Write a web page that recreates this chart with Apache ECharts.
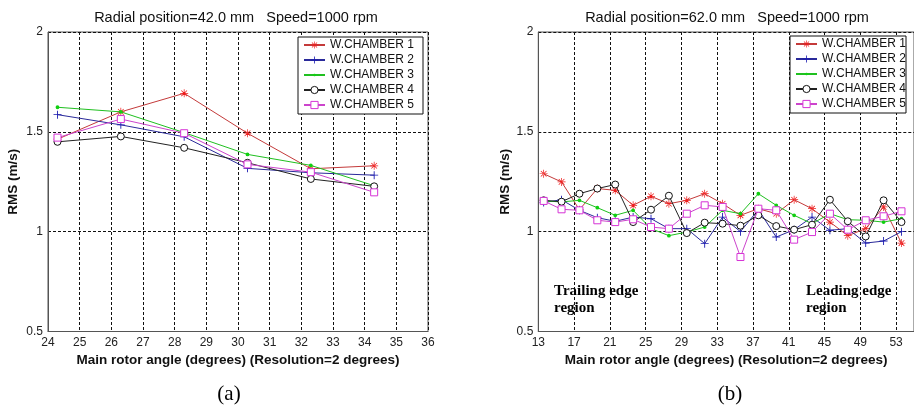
<!DOCTYPE html>
<html><head><meta charset="utf-8">
<script src="https://cdn.jsdelivr.net/npm/echarts@6/dist/echarts.min.js"></script>
<style>html,body{margin:0;padding:0;background:#fff}#c{width:914px;height:406px}</style>
</head><body><div id="c"></div>
<script>
const names = ['W.CHAMBER 1', 'W.CHAMBER 2', 'W.CHAMBER 3', 'W.CHAMBER 4', 'W.CHAMBER 5'];
const titleA = 'Radial position=42.0 mm   Speed=1000 rpm';
const titleB = 'Radial position=62.0 mm   Speed=1000 rpm';
const xName = 'Main rotor angle (degrees) (Resolution=2 degrees)';
const yName = 'RMS (m/s)';

// chart (a)
const anglesA = [24.3, 26.3, 28.3, 30.3, 32.3, 34.3];
const a1 = [1.463, 1.600, 1.693, 1.493, 1.315, 1.330];
const a2 = [1.586, 1.535, 1.475, 1.317, 1.295, 1.283];
const a3 = [1.623, 1.600, 1.496, 1.387, 1.332, 1.230];
const a4 = [1.450, 1.477, 1.420, 1.345, 1.264, 1.227];
const a5 = [1.471, 1.564, 1.493, 1.337, 1.298, 1.197];

// chart (b)
const anglesB = [13.6, 15.6, 17.6, 19.6, 21.6, 23.6, 25.6, 27.6, 29.6, 31.6, 33.6, 35.6, 37.6, 39.6, 41.6, 43.6, 45.6, 47.6, 49.6, 51.6, 53.6];
const b1 = [1.290, 1.249, 1.110, 1.216, 1.207, 1.132, 1.177, 1.140, 1.157, 1.190, 1.140, 1.082, 1.115, 1.090, 1.160, 1.115, 1.048, 0.980, 1.015, 1.124, 0.943];
const b2 = [1.146, 1.160, 1.107, 1.070, 1.052, 1.073, 1.065, 1.015, 1.015, 0.940, 1.073, 1.000, 1.110, 0.973, 1.010, 1.073, 1.007, 1.015, 0.943, 0.953, 1.000];
const b3 = [1.154, 1.149, 1.157, 1.120, 1.082, 1.107, 1.015, 0.980, 0.998, 1.023, 1.107, 1.090, 1.190, 1.132, 1.082, 1.040, 1.090, 1.060, 1.057, 1.048, 1.065];
const b4 = [1.157, 1.150, 1.190, 1.216, 1.236, 1.048, 1.110, 1.180, 0.993, 1.045, 1.040, 1.030, 1.082, 1.028, 1.010, 1.035, 1.160, 1.052, 0.976, 1.157, 1.048];
const b5 = [1.154, 1.112, 1.107, 1.057, 1.048, 1.062, 1.023, 1.015, 1.090, 1.132, 1.124, 0.873, 1.115, 1.107, 0.960, 0.998, 1.090, 1.010, 1.057, 1.077, 1.102];

const xTicksA = {min: 24, max: 36, interval: 1};
const xTicksB = {min: 13, max: 55, interval: 4};
const yTicks = {min: 0.5, max: 2, interval: 0.5};

const PLUS = 'path://M-0.55,-5L0.55,-5L0.55,-0.55L5,-0.55L5,0.55L0.55,0.55L0.55,5L-0.55,5L-0.55,0.55L-5,0.55L-5,-0.55L-0.55,-0.55Z';
const STAR = 'path://M-0.45,-5L0.45,-5L0.45,-0.45L5,-0.45L5,0.45L0.45,0.45L0.45,5L-0.45,5L-0.45,0.45L-5,0.45L-5,-0.45L-0.45,-0.45Z' +
  'M-3.22,-3.86L3.86,3.22L3.22,3.86L-3.86,-3.22Z M-3.22,3.86L3.86,-3.22L3.22,-3.86L-3.86,3.22Z';
// small dot inside an invisible 10x10 box, so the legend icon stays small
const DOT = 'path://M-5,-5L-5,-5Z M5,5L5,5Z M-1.9,0A1.9,1.9 0 1,1 1.9,0A1.9,1.9 0 1,1 -1.9,0Z';

const styles = [
  {color: '#ee1c1c', line: '#c43a3a', symbol: STAR, size: 8, fill: '#ee1c1c', bw: 0},
  {color: '#1a1ab0', line: '#2a2a9a', symbol: PLUS, size: 8, fill: '#1a1ab0', bw: 0},
  {color: '#10d010', line: '#20c020', symbol: DOT, size: 10, fill: '#10d010', bw: 0},
  {color: '#111111', line: '#222222', symbol: 'circle', size: 7, fill: '#ffffff', bw: 1},
  {color: '#d633d6', line: '#cc44cc', symbol: 'rect', size: 7, fill: '#ffffff', bw: 1}
];

function mk(xs, ys, i, gi) {
  const s = styles[i];
  return {
    name: names[i], type: 'line', xAxisIndex: gi, yAxisIndex: gi,
    data: xs.map((x, k) => [x, ys[k]]),
    symbol: s.symbol, symbolSize: s.size, showSymbol: true, symbolKeepAspect: true,
    lineStyle: {color: s.line, width: 1},
    itemStyle: {color: s.fill, borderColor: s.color, borderWidth: s.bw},
    animation: false, z: 3 + i
  };
}

const sans = 'Arial, Liberation Sans, sans-serif';
const axisFont = {fontFamily: sans, fontSize: 12, color: '#222'};
const split = {show: true, lineStyle: {color: '#111', width: 1, type: [3, 2]}};
const axLine = {show: true, lineStyle: {color: '#555', width: 1}};

function xAxis(ticks, gi) {
  return Object.assign({
    type: 'value', gridIndex: gi, name: xName, nameLocation: 'middle', nameGap: 19,
    nameTextStyle: {fontFamily: sans, fontSize: 13.5, fontWeight: 'bold', color: '#111'},
    axisLine: axLine, axisTick: {show: false}, splitLine: split,
    axisLabel: Object.assign({margin: 5, showMaxLabel: gi === 0,
      formatter: v => (gi === 1 && v > 53) ? '' : String(v)}, axisFont)
  }, ticks);
}
function yAxis(gi, gap) {
  return Object.assign({
    type: 'value', gridIndex: gi, name: yName, nameLocation: 'middle', nameGap: gap,
    nameTextStyle: {fontFamily: sans, fontSize: 13.5, fontWeight: 'bold', color: '#111'},
    axisLine: axLine, axisTick: {show: false}, splitLine: split,
    axisLabel: Object.assign({margin: 5}, axisFont)
  }, yTicks);
}

const legendData = names.map((n, i) => ({name: n, itemStyle: {borderWidth: styles[i].bw}}));
const legendBase = {
  orient: 'vertical', itemWidth: 21, itemHeight: 9, itemGap: 3,
  borderColor: '#111', borderWidth: 1, backgroundColor: '#fff', borderRadius: 0,
  textStyle: {fontFamily: sans, fontSize: 12, color: '#111'},
  data: legendData, selectedMode: false, z: 10
};

const chart = echarts.init(document.getElementById('c'), null, {renderer: 'canvas'});
chart.setOption({
  backgroundColor: '#fff',
  animation: false,
  title: [
    {text: titleA, left: 236, top: 10, textAlign: 'center', padding: 0,
     textStyle: {fontFamily: sans, fontSize: 14.5, fontWeight: 'normal', color: '#111'}},
    {text: titleB, left: 727, top: 10, textAlign: 'center', padding: 0,
     textStyle: {fontFamily: sans, fontSize: 14.5, fontWeight: 'normal', color: '#111'}}
  ],
  grid: [
    {left: 48, width: 380, top: 32, bottom: 74.5, show: true, borderColor: '#555', borderWidth: 1, backgroundColor: '#fff'},
    {left: 538.3, width: 381.2, top: 32, bottom: 74.5, show: true, borderColor: '#555', borderWidth: 1, backgroundColor: '#fff'}
  ],
  xAxis: [xAxis(xTicksA, 0), xAxis(xTicksB, 1)],
  yAxis: [yAxis(0, 28), yAxis(1, 21)],
  legend: [
    Object.assign({}, legendBase, {left: 298, top: 37, padding: [2, 9, 3, 5]}),
    Object.assign({}, legendBase, {left: 790, top: 36, padding: [2, 0, 3, 5]})
  ],
  series: [
    mk(anglesA, a1, 0, 0), mk(anglesA, a2, 1, 0), mk(anglesA, a3, 2, 0), mk(anglesA, a4, 3, 0), mk(anglesA, a5, 4, 0),
    mk(anglesB, b1, 0, 1), mk(anglesB, b2, 1, 1), mk(anglesB, b3, 2, 1), mk(anglesB, b4, 3, 1), mk(anglesB, b5, 4, 1)
  ],
  graphic: [
    {type: 'text', left: 554, top: 283, z: 20, style: {text: 'Trailing edge\nregion', fontFamily: 'Liberation Serif, Times New Roman, serif', fontSize: 15, fontWeight: 'bold', lineHeight: 17, fill: '#000'}},
    {type: 'text', left: 806, top: 283, z: 20, style: {text: 'Leading edge\nregion', fontFamily: 'Liberation Serif, Times New Roman, serif', fontSize: 15, fontWeight: 'bold', lineHeight: 17, fill: '#000'}},
    {type: 'text', x: 229, y: 394, z: 20, style: {text: '(a)', fontFamily: 'Liberation Serif, Times New Roman, serif', fontSize: 21, fill: '#000', align: 'center', verticalAlign: 'middle'}},
    {type: 'text', x: 730, y: 394, z: 20, style: {text: '(b)', fontFamily: 'Liberation Serif, Times New Roman, serif', fontSize: 21, fill: '#000', align: 'center', verticalAlign: 'middle'}}
  ]
});
</script></body></html>
